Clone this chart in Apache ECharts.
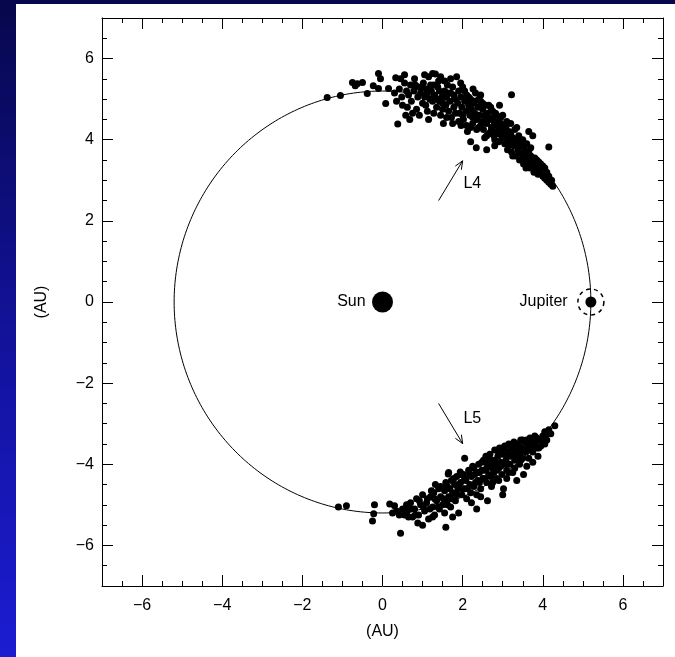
<!DOCTYPE html>
<html>
<head>
<meta charset="utf-8">
<script src="https://cdn.jsdelivr.net/npm/echarts@6/dist/echarts.min.js"></script>
<style>
html,body{margin:0;padding:0;width:675px;height:657px;overflow:hidden;
  background:linear-gradient(to bottom,#07074c 0%,#12129a 50%,#1c1cd2 100%);}
#paper{position:absolute;left:16px;top:4px;width:659px;height:653px;background:#fff;}
#chart{position:absolute;left:0;top:0;width:675px;height:657px;}
</style>
</head>
<body>
<div id="paper"></div>
<div id="chart"></div>
<script>
// ---------- data ----------
const axisMin = -7, axisMax = 7;
const xTickLabels = [-6, -4, -2, 0, 2, 4, 6];
const yTickLabels = [-6, -4, -2, 0, 2, 4, 6];
const orbitRadius = 5.2;
const sunPos = [[0, 0]];
const jupiterPos = [[5.2, 0]];
const arrowL4 = [1.4, 2.5, 2.0, 3.48];
const arrowL5 = [1.4, -2.5, 2.0, -3.49];
const textLabels = ['Sun', 'Jupiter', 'L4', 'L5'];
const textPos = [[-0.42, 0], [4.62, 0], [2.02, 2.92], [2.02, -2.87]];

const l4Points = [
 [-1.38,5.04],[-1.05,5.09],[-0.75,5.41],[-0.63,5.38],[-0.5,5.41],[-0.68,5.33],[-0.38,5.14],[-0.23,5.33],
 [-0.1,5.63],[-0.05,5.5],[-0.1,5.26],[0.08,4.89],[0.15,5.26],[0.33,5.53],[0.38,4.39],[1.25,5.63],
 [0.42,5.25],[0.48,5.05],[0.55,5.4],[0.5,4.85],[0.6,5.2],[0.58,4.6],[0.45,5.5],
 [0.65,5.1],[0.7,5.35],[0.72,4.95],[0.78,5.2],[0.8,5.5],[0.85,4.75],[0.88,5.05],[0.68,4.5],[0.9,5.3],
 [0.95,5.15],[1.0,4.9],[1.02,5.4],[1.05,5.05],[1.1,5.25],[1.12,4.7],[1.15,5.55],[1.18,5.0],[0.98,5.28],[1.08,4.85],
 [1.22,5.2],[1.25,4.95],[1.28,5.35],[1.3,5.1],[1.35,4.8],[1.38,5.0],[1.4,5.45],[1.42,5.2],[1.45,4.6],[1.48,5.05],[1.32,5.62],[1.5,4.9],
 [1.55,5.2],[1.58,4.85],[1.6,5.05],[1.62,5.35],[1.65,4.7],[1.68,4.95],[1.7,5.15],[1.72,4.55],[1.75,5.3],[1.78,4.8],[1.8,5.0],[1.52,4.4],[1.85,5.55],
 [1.88,4.9],[1.9,5.2],[1.92,4.65],[1.95,5.05],[1.98,4.8],[2.0,5.3],[2.02,4.5],[2.05,4.95],[2.08,4.7],[2.1,5.1],[1.96,4.35],[2.12,4.2],
 [2.15,4.85],[2.18,4.6],[2.2,5.0],[2.22,4.75],[2.25,4.4],[2.28,4.9],[2.3,4.65],[2.32,5.15],[2.35,4.5],[2.38,4.8],[2.4,4.3],[2.26,5.25],
 [2.42,4.6],[2.45,4.95],[2.48,4.45],[2.5,4.75],[2.52,4.25],[2.55,4.6],[2.58,4.85],[2.6,4.4],[2.62,4.65],[2.65,4.15],[2.68,4.5],[2.7,4.8],[2.55,4.05],[2.45,5.1],
 [2.72,4.3],[2.75,4.55],[2.78,4.1],[2.8,4.4],[2.82,4.65],[2.85,4.2],[2.88,4.45],[2.9,3.95],[2.92,4.3],[2.95,4.55],[2.98,4.05],[3.0,4.35],[2.8,3.85],[2.92,4.85],
 [3.02,4.15],[3.05,3.9],[3.08,4.3],[3.1,4.05],[3.12,3.75],[3.15,4.2],[3.18,3.95],[3.2,4.4],[3.22,3.7],[3.25,4.05],[3.28,3.85],[3.3,4.25],
 [3.32,3.6],[3.35,3.95],[3.38,3.75],[3.4,4.1],[3.42,3.5],[3.45,3.85],[3.48,3.65],[3.5,4.0],[3.52,3.4],[3.55,3.75],[3.58,3.55],[3.6,3.9],
 [3.62,3.45],[3.65,3.7],[3.68,3.3],[3.7,3.6],[3.75,3.4],[3.78,3.2],[3.8,3.55],[3.85,3.35],[3.88,3.15],[3.9,3.45],[3.95,3.25],[4.0,3.35],[3.75,4.1],[3.65,4.2],
 [4.05,3.05],[4.1,3.2],[4.15,2.95],[4.2,2.9],[4.22,3.0],[4.25,2.85],
 [2.34,3.8],[2.6,3.75],[2.2,3.95],[3.22,5.11],[4.15,3.82],[3.58,3.3],
 [0.3,5.15],[0.35,4.95],[0.55,5.6],[0.62,4.8],[0.75,4.65],[0.82,5.35],[0.92,4.6],[1.05,5.6],[1.15,4.5],[1.2,5.35],
 [1.28,4.65],[1.38,5.3],[1.45,5.55],[1.5,4.75],[1.55,5.45],[1.6,4.55],[1.7,5.5],[1.75,4.4],[1.82,4.65],[1.9,4.45],
 [1.95,5.4],[2.0,4.6],[2.05,5.2],[2.1,4.35],[2.15,5.05],[2.2,4.3],[2.25,4.55],[2.3,4.95],[2.35,4.25],[2.4,5.0],
 [2.45,4.35],[2.5,4.9],[2.55,4.45],[2.6,4.1],[2.65,4.85],[2.7,4.2],[2.75,4.7],[2.8,4.0],[2.85,4.6],[2.9,4.15],
 [2.95,4.4],[3.0,4.6],[3.05,4.1],[3.1,4.45],[3.15,3.85],[3.2,4.15],[3.25,3.6],[3.3,4.0],[3.35,4.3],[3.4,3.7],
 [3.45,4.0],[3.5,3.55],[3.55,3.9],[3.6,3.6],[3.65,3.35],[3.7,3.8],[3.75,3.55],[3.8,3.3],[3.85,3.5],[3.9,3.2],
 [3.95,3.4],[4.0,3.1],[4.05,3.3],[4.1,3.0],[4.15,3.1],[1.12,5.15],[1.27,5.05],[1.42,4.95],[1.62,5.15],[1.78,5.1],
 [2.18,4.85],[2.38,4.6],[2.58,4.55],[2.78,4.35],[2.98,4.2],[3.18,4.05],[3.38,3.85],[3.58,3.65],[3.78,3.45]
];

const l5Points = [
 [-1.1,-5.05],[-0.9,-5.02],[-0.2,-5.0],[-0.22,-5.22],[-0.25,-5.4],[0.18,-4.98],[0.3,-5.02],[0.25,-5.2],[0.45,-5.7],
 [0.5,-5.1],[0.42,-5.25],[0.55,-5.25],[0.62,-5.15],[0.7,-4.95],[0.75,-5.3],
 [0.8,-5.1],[0.85,-4.85],[0.9,-5.25],[0.95,-5.0],[1.0,-4.75],[1.05,-5.15],[1.1,-4.95],[1.15,-5.35],[1.2,-4.8],[0.88,-5.45],[1.0,-5.5],
 [1.25,-5.05],[1.28,-4.7],[1.3,-5.25],[1.35,-4.9],[1.4,-4.6],[1.42,-5.1],[1.45,-4.8],[1.5,-5.0],[1.55,-4.65],[1.58,-5.55],[1.32,-4.5],[1.6,-4.9],
 [1.62,-4.55],[1.65,-4.8],[1.7,-5.05],[1.72,-4.4],[1.75,-4.7],[1.8,-4.5],[1.82,-4.9],[1.85,-4.3],[1.88,-4.6],[1.9,-5.2],[1.95,-4.45],[1.98,-4.75],[1.65,-4.2],[1.75,-5.3],
 [2.02,-4.25],[2.05,-4.6],[2.08,-4.4],[2.1,-4.85],[2.15,-4.15],[2.18,-4.5],[2.2,-4.7],[2.22,-4.3],[2.25,-4.05],[2.28,-4.55],[2.3,-4.25],[2.35,-4.75],[2.38,-4.4],[2.4,-4.0],[2.05,-3.85],[2.35,-5.1],
 [2.42,-4.2],[2.45,-4.6],[2.48,-3.95],[2.5,-4.35],[2.55,-4.15],[2.58,-3.8],[2.6,-4.45],[2.62,-4.0],[2.65,-4.25],[2.68,-3.75],[2.7,-4.05],[2.72,-4.55],[2.75,-3.9],[2.78,-4.2],[2.8,-3.65],[2.62,-4.9],
 [2.82,-4.0],[2.85,-4.35],[2.88,-3.8],[2.9,-4.1],[2.92,-3.6],[2.95,-3.95],[2.98,-4.25],[3.0,-3.75],[3.02,-4.6],[3.05,-3.55],[3.08,-3.9],[3.1,-4.15],[3.12,-3.7],[3.15,-3.5],[3.18,-4.0],[3.2,-3.8],[3.0,-4.75],
 [3.22,-3.55],[3.25,-4.2],[3.28,-3.45],[3.3,-3.9],[3.32,-3.65],[3.35,-4.4],[3.38,-3.5],[3.4,-3.75],[3.42,-4.0],[3.45,-3.4],[3.48,-3.6],[3.5,-3.85],[3.52,-4.25],[3.55,-3.45],[3.58,-3.7],[3.6,-4.05],
 [3.62,-3.5],[3.65,-3.85],[3.68,-3.35],[3.7,-3.6],[3.75,-3.95],[3.78,-3.45],[3.8,-3.3],[3.85,-3.6],[3.88,-3.8],[3.9,-3.4],[3.95,-3.55],[4.0,-3.3],[4.05,-3.5],[4.1,-3.25],[4.15,-3.15],[4.2,-3.25],[4.3,-3.05],
 [1.64,-4.24],[1.94,-4.19],
 [0.35,-5.15],[0.6,-5.0],[0.65,-5.3],[0.72,-5.1],[0.82,-5.25],[0.92,-4.9],[1.02,-5.05],[1.12,-4.85],[1.18,-5.1],[1.22,-4.65],
 [1.3,-4.85],[1.38,-5.05],[1.45,-4.55],[1.52,-4.85],[1.58,-4.45],[1.62,-5.0],[1.68,-4.6],[1.72,-4.85],[1.78,-4.35],[1.85,-4.75],
 [1.9,-4.5],[1.95,-4.25],[2.0,-4.6],[2.05,-4.35],[2.12,-4.6],[2.18,-4.25],[2.22,-4.95],[2.28,-4.1],[2.32,-4.45],[2.38,-4.2],
 [2.42,-4.45],[2.48,-4.15],[2.52,-3.9],[2.55,-4.35],[2.6,-4.1],[2.65,-3.85],[2.7,-4.3],[2.75,-4.1],[2.8,-3.9],[2.85,-4.15],
 [2.9,-3.75],[2.95,-4.05],[3.0,-3.6],[3.05,-4.0],[3.1,-3.8],[3.15,-4.2],[3.2,-3.6],[3.25,-3.75],[3.3,-3.5],[3.35,-3.8],
 [3.4,-3.55],[3.45,-3.9],[3.5,-3.4],[3.55,-3.65],[3.6,-3.4],[3.65,-3.65],[3.7,-3.45],[3.75,-3.7],[3.8,-3.5],[3.85,-3.35],
 [3.9,-3.6],[3.95,-3.4],[4.0,-3.45],[4.05,-3.2],[4.1,-3.4],[2.45,-4.8],[2.75,-4.45],[2.9,-4.4],[3.1,-4.35],[3.3,-4.1],
 [3.45,-3.7],[1.55,-5.2],[1.25,-5.3]
];

// ---------- chart ----------
const chart = echarts.init(document.getElementById('chart'), null, {renderer: 'canvas'});
const FONT = 'Liberation Sans, Arial, sans-serif';
const minus = v => String(v).replace('-', '\u2212');
const allTicks = [-6, -4, -2, 0, 2, 4, 6];

function mkAxis(pos, isX, major, primary) {
  const a = {
    type: 'value', position: pos, min: axisMin, max: axisMax,
    interval: 0.5, splitLine: {show: false},
    axisLine: {show: !major, onZero: false, lineStyle: {color: '#000', width: 1}},
    axisTick: {show: true, inside: true, length: major ? 11 : 5, lineStyle: {color: '#000', width: 1}},
    axisLabel: {show: false}
  };
  if (major) a.axisTick.customValues = allTicks;
  if (primary) {
    a.axisLabel = {show: true, customValues: isX ? xTickLabels : yTickLabels,
      formatter: minus, color: '#000', fontSize: 16, fontFamily: FONT, margin: isX ? 12 : 8};
    a.name = '(AU)';
    a.nameLocation = 'middle';
    a.nameGap = isX ? 38 : 52;
    a.nameTextStyle = {color: '#000', fontSize: 16, fontFamily: FONT};
    if (!isX) a.nameRotate = 90;
  }
  return a;
}

const dot = {color: '#000', opacity: 1};

const option = {
  animation: false,
  backgroundColor: 'transparent',
  grid: {left: 102, top: 18, right: 12, bottom: 71, containLabel: false},
  xAxis: [mkAxis('bottom', true, false, true), mkAxis('bottom', true, true, false),
          mkAxis('top', true, false, false), mkAxis('top', true, true, false)],
  yAxis: [mkAxis('left', false, false, true), mkAxis('left', false, true, false),
          mkAxis('right', false, false, false), mkAxis('right', false, true, false)],
  series: [
    {
      type: 'custom', xAxisIndex: 0, yAxisIndex: 0, silent: true,
      data: [[0, 0]],
      renderItem: function (params, api) {
        const pts = [];
        for (let i = 0; i <= 360; i++) {
          const t = i * Math.PI / 180;
          pts.push(api.coord([orbitRadius * Math.cos(t), orbitRadius * Math.sin(t)]));
        }
        return {type: 'polyline', shape: {points: pts}, style: {stroke: '#000', lineWidth: 1, fill: null}};
      }
    },
    {type: 'scatter', data: l4Points, symbol: 'circle', symbolSize: 7, itemStyle: dot, silent: true},
    {type: 'scatter', data: l5Points, symbol: 'circle', symbolSize: 7, itemStyle: dot, silent: true},
    {type: 'scatter', data: sunPos, symbol: 'circle', symbolSize: 21, itemStyle: dot, silent: true},
    {type: 'scatter', data: jupiterPos, symbol: 'circle', symbolSize: 11, itemStyle: dot, silent: true},
    {type: 'scatter', data: jupiterPos, symbol: 'circle', symbolSize: 26, silent: true,
      itemStyle: {color: 'rgba(0,0,0,0)', opacity: 1, borderColor: '#000', borderWidth: 1.5, borderType: [4, 4]}},
    {
      type: 'custom', silent: true, data: [arrowL4, arrowL5],
      encode: {x: [0, 2], y: [1, 3]},
      renderItem: function (params, api) {
        const p0 = api.coord([api.value(0), api.value(1)]);
        const p1 = api.coord([api.value(2), api.value(3)]);
        const ang = Math.atan2(p1[1] - p0[1], p1[0] - p0[0]);
        const hl = 9, ha = 0.4;
        const h1 = [p1[0] - hl * Math.cos(ang - ha), p1[1] - hl * Math.sin(ang - ha)];
        const h2 = [p1[0] - hl * Math.cos(ang + ha), p1[1] - hl * Math.sin(ang + ha)];
        return {type: 'group', children: [
          {type: 'line', shape: {x1: p0[0], y1: p0[1], x2: p1[0], y2: p1[1]}, style: {stroke: '#000', lineWidth: 1}},
          {type: 'polyline', shape: {points: [h1, p1, h2]}, style: {stroke: '#000', lineWidth: 1, fill: null}}
        ]};
      }
    },
    {
      type: 'custom', silent: true, data: textPos,
      renderItem: function (params, api) {
        const p = api.coord([api.value(0), api.value(1)]);
        const i = params.dataIndex;
        return {type: 'text', x: p[0], y: p[1], style: {
          text: textLabels[i], fill: '#000', font: '16px ' + FONT,
          align: i < 2 ? 'right' : 'left', verticalAlign: 'middle'}};
      }
    }
  ]
};
chart.setOption(option);
</script>
</body>
</html>
